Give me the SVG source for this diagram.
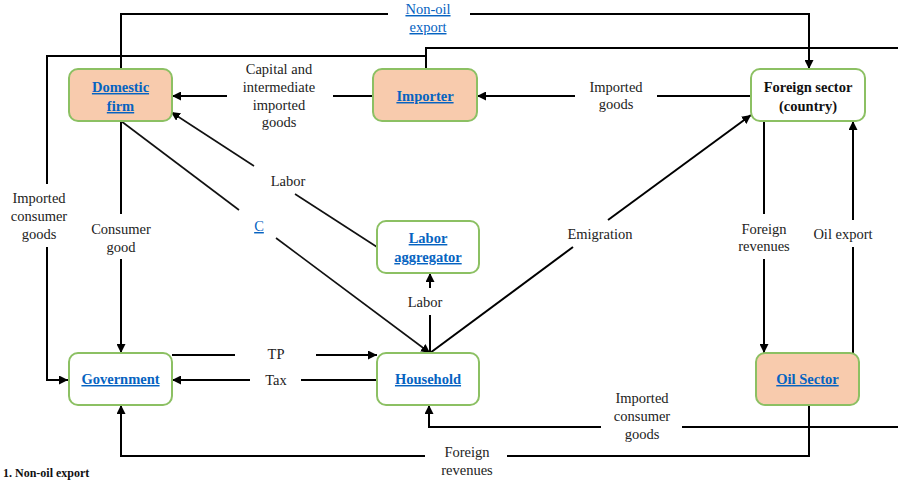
<svg xmlns="http://www.w3.org/2000/svg" width="898" height="481" viewBox="0 0 898 481">
<style>
.box{stroke:#8CC063;stroke-width:2}
.peach{fill:#F8CBAD}
.white{fill:#FFFFFF}
.nl{font-family:"Liberation Serif","Times New Roman",serif;font-size:14.5px;font-weight:bold;fill:#0563C1;text-decoration:underline;text-anchor:middle}
.nb{font-family:"Liberation Serif","Times New Roman",serif;font-size:14.5px;font-weight:bold;fill:#111;text-anchor:middle}
.lb{font-family:"Liberation Serif","Times New Roman",serif;font-size:14.5px;fill:#222;text-anchor:middle}
.lk{font-family:"Liberation Serif","Times New Roman",serif;font-size:14.5px;fill:#0563C1;text-decoration:underline;text-anchor:middle}
.c{fill:none;stroke:#000;stroke-width:2}
.d{fill:none;stroke:#111;stroke-width:1.6}
</style>
<defs>
<marker id="ah" viewBox="0 0 10 10" refX="10" refY="5" markerWidth="9" markerHeight="9" markerUnits="userSpaceOnUse" orient="auto">
<path d="M0,0 L10,5 L0,10 z" fill="#000"/>
</marker>
</defs>
<rect width="898" height="481" fill="#FFFFFF"/>

<g id="connectors">
<!-- Non-oil export -->
<path class="c" d="M121,69 V14 H388"/>
<path class="c" d="M470,14 H809 V69" marker-end="url(#ah)"/>
<!-- Imported consumer goods from right to government, via importer top -->
<path class="c" d="M898,48 H426 V69"/>
<path class="c" d="M426,56 H47 V184"/>
<path class="c" d="M47,247 V380 H68" marker-end="url(#ah)"/>
<!-- Capital and intermediate imported goods -->
<path class="c" d="M373,96 H333"/>
<path class="c" d="M227,96 H172" marker-end="url(#ah)"/>
<!-- Imported goods -->
<path class="c" d="M751,96 H657"/>
<path class="c" d="M575,96 H477" marker-end="url(#ah)"/>
<!-- Consumer good -->
<path class="c" d="M121,121 V214"/>
<path class="c" d="M121,259 V353" marker-end="url(#ah)"/>
<!-- C -->
<path class="d" d="M121,121 L239,210"/>
<path class="d" d="M276,238 L430,353" marker-end="url(#ah)"/>
<!-- Labor to domestic firm -->
<path class="d" d="M377,247 L295,194"/>
<path class="d" d="M254,166 L171,112" marker-end="url(#ah)"/>
<!-- Labor household to labor aggregator -->
<path class="c" d="M430,353 V315"/>
<path class="c" d="M430,288 V273" marker-end="url(#ah)"/>
<!-- Emigration -->
<path class="c" d="M430,353 L573,247"/>
<path class="c" d="M608,220 L751,115" marker-end="url(#ah)"/>
<!-- Foreign revenues to oil sector -->
<path class="c" d="M764,121 V214"/>
<path class="c" d="M764,259 V353" marker-end="url(#ah)"/>
<!-- Oil export -->
<path class="c" d="M853,353 V247"/>
<path class="c" d="M853,220 V121" marker-end="url(#ah)"/>
<!-- TP -->
<path class="c" d="M172,355 H235"/>
<path class="c" d="M316,355 H377" marker-end="url(#ah)"/>
<!-- Tax -->
<path class="c" d="M377,380 H301"/>
<path class="c" d="M250,380 H172" marker-end="url(#ah)"/>
<!-- Imported consumer goods to household -->
<path class="c" d="M898,427 H682"/>
<path class="c" d="M601,427 H429 V405" marker-end="url(#ah)"/>
<!-- Foreign revenues oil to government -->
<path class="c" d="M809,405 V456 H507"/>
<path class="c" d="M425,456 H121 V405" marker-end="url(#ah)"/>
</g>

<g id="labels">
<text class="lk" x="428" y="14">Non-oil</text>
<text class="lk" x="428" y="32">export</text>
<text class="lb" x="279" y="74">Capital and</text>
<text class="lb" x="279" y="92">intermediate</text>
<text class="lb" x="279" y="110">imported</text>
<text class="lb" x="279" y="127">goods</text>
<text class="lb" x="616" y="92">Imported</text>
<text class="lb" x="616" y="109">goods</text>
<text class="lb" x="39" y="203">Imported</text>
<text class="lb" x="39" y="221">consumer</text>
<text class="lb" x="39" y="239">goods</text>
<text class="lb" x="121" y="234">Consumer</text>
<text class="lb" x="121" y="252">good</text>
<text class="lk" x="259" y="231">C</text>
<text class="lb" x="288" y="186">Labor</text>
<text class="lb" x="425" y="307">Labor</text>
<text class="lb" x="600" y="239">Emigration</text>
<text class="lb" x="764" y="234">Foreign</text>
<text class="lb" x="764" y="251">revenues</text>
<text class="lb" x="843" y="239">Oil export</text>
<text class="lb" x="276" y="359">TP</text>
<text class="lb" x="276" y="385">Tax</text>
<text class="lb" x="642" y="403">Imported</text>
<text class="lb" x="642" y="421">consumer</text>
<text class="lb" x="642" y="439">goods</text>
<text class="lb" x="467" y="457">Foreign</text>
<text class="lb" x="467" y="475">revenues</text>
<text class="nb" x="3" y="477" style="text-anchor:start;font-size:12px">1.   Non-oil export</text>
</g>

<g id="domestic-firm">
<rect class="box peach" x="69" y="69" width="103" height="52" rx="9"/>
<text class="nl" x="120.5" y="92">Domestic</text>
<text class="nl" x="120.5" y="111">firm</text>
</g>
<g id="importer">
<rect class="box peach" x="373" y="69" width="104" height="52" rx="9"/>
<text class="nl" x="425" y="101">Importer</text>
</g>
<g id="foreign-sector">
<rect class="box white" x="751" y="69" width="114" height="52" rx="9"/>
<text class="nb" x="808" y="92">Foreign sector</text>
<text class="nb" x="808" y="111">(country)</text>
</g>
<g id="labor-aggregator">
<rect class="box white" x="377" y="221" width="102" height="52" rx="9"/>
<text class="nl" x="428" y="243">Labor</text>
<text class="nl" x="428" y="262">aggregator</text>
</g>
<g id="household">
<rect class="box white" x="377" y="353" width="102" height="52" rx="9"/>
<text class="nl" x="428" y="384">Household</text>
</g>
<g id="government">
<rect class="box white" x="69" y="353" width="103" height="52" rx="9"/>
<text class="nl" x="120.5" y="384">Government</text>
</g>
<g id="oil-sector">
<rect class="box peach" x="756" y="353" width="103" height="52" rx="9"/>
<text class="nl" x="807.5" y="384">Oil Sector</text>
</g>
</svg>
